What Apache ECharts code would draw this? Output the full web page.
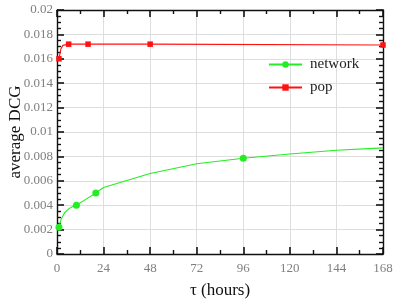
<!DOCTYPE html>
<html>
<head>
<meta charset="utf-8">
<script src="https://cdn.jsdelivr.net/npm/echarts@6/dist/echarts.min.js"></script>
<style>html,body{margin:0;padding:0;background:#fff}#c{width:409px;height:300px}</style>
</head>
<body>
<div id="c"></div>
<script>
// ---- data ----
var xTicks = [0, 24, 48, 72, 96, 120, 144, 168];
var yTicks = [0, 0.002, 0.004, 0.006, 0.008, 0.01, 0.012, 0.014, 0.016, 0.018, 0.02];

var networkTau = [1, 2, 4, 6, 8, 10, 15, 20, 24, 48, 72, 96, 120, 144, 168];
var networkVal = [0.0022, 0.0028, 0.0034, 0.0037, 0.0039, 0.0040, 0.0045, 0.0050, 0.00545, 0.0066, 0.0074, 0.00785, 0.0082, 0.0085, 0.0087];
var networkMarkerTau = [1, 10, 20, 96];

var popTau = [1, 2, 3, 6, 16, 48, 168];
var popVal = [0.0160, 0.0168, 0.0171, 0.0172, 0.0172, 0.0172, 0.01713];
var popMarkerTau = [1, 6, 16, 48, 168];

// ---- build ----
function build(tau, val, marks) {
  return tau.map(function (t, i) {
    var item = { value: [t, val[i]] };
    if (marks.indexOf(t) < 0) item.symbol = 'none';
    return item;
  });
}
var FONT = '"Liberation Serif", "DejaVu Serif", serif';
var AXC = '#111';
var chart = echarts.init(document.getElementById('c'), null, { renderer: 'canvas' });
var xMin = xTicks[0], xMax = xTicks[xTicks.length - 1], xInt = xTicks[1] - xTicks[0];
var yMin = yTicks[0], yMax = yTicks[yTicks.length - 1], yInt = yTicks[1] - yTicks[0];

function xAx(pos, show) {
  return {
    type: 'value', position: pos, min: xMin, max: xMax, interval: xInt,
    name: show ? 'τ (hours)' : '', nameLocation: 'middle', nameGap: 28, nameMoveOverlap: false,
    nameTextStyle: { fontFamily: FONT, fontSize: 17, color: '#111' },
    axisLine: { show: true, onZero: false, lineStyle: { color: AXC, width: 1.4 } },
    axisTick: { show: true, inside: true, length: 7, lineStyle: { color: AXC, width: 1.6 } },
    minorTick: { show: true, splitNumber: 2, length: 4, lineStyle: { color: AXC, width: 1.4 } },
    axisLabel: { show: show, margin: 8, fontFamily: FONT, fontSize: 13, color: '#808080' },
    splitLine: { show: show, lineStyle: { color: '#dedede', width: 1 } }
  };
}
function yAx(pos, show) {
  return {
    type: 'value', position: pos, min: yMin, max: yMax, interval: yInt,
    name: show ? 'average DCG' : '', nameLocation: 'middle', nameGap: 33, nameMoveOverlap: false,
    nameTextStyle: { fontFamily: FONT, fontSize: 17, color: '#111' },
    axisLine: { show: true, onZero: false, lineStyle: { color: AXC, width: 1.4 } },
    axisTick: { show: true, inside: true, length: 7, lineStyle: { color: AXC, width: 1.6 } },
    minorTick: { show: true, splitNumber: 4, length: 4, lineStyle: { color: AXC, width: 1.4 } },
    axisLabel: { show: show, margin: 4, fontFamily: FONT, fontSize: 13, color: '#808080',
      formatter: function (v) { return String(+v.toFixed(4)); } },
    splitLine: { show: show, lineStyle: { color: '#dedede', width: 1 } }
  };
}

chart.setOption({
  animation: false,
  grid: { left: 57, right: 26, top: 10, bottom: 46, containLabel: false, outerBoundsMode: 'none' },
  xAxis: [xAx('bottom', true), xAx('top', false)],
  yAxis: [yAx('left', true), yAx('right', false)],
  legend: {
    orient: 'vertical', left: 268, top: 57, padding: 0, itemWidth: 33, itemHeight: 8, itemGap: 8,
    textStyle: { fontFamily: FONT, fontSize: 15, color: '#222', padding: [0, 0, 0, 3] },
    data: ['network', 'pop']
  },
  series: [
    { name: 'network', type: 'line', xAxisIndex: 0, yAxisIndex: 0, smooth: false,
      symbol: 'circle', symbolSize: 7, clip: false,
      lineStyle: { color: '#22ee22', width: 1.1 }, itemStyle: { color: '#22ee22' },
      data: build(networkTau, networkVal, networkMarkerTau) },
    { name: 'pop', type: 'line', xAxisIndex: 0, yAxisIndex: 0, smooth: false,
      symbol: 'rect', symbolSize: 5.5, clip: false,
      lineStyle: { color: '#ff1111', width: 1.1 }, itemStyle: { color: '#ff1111' },
      data: build(popTau, popVal, popMarkerTau) }
  ]
});
</script>
</body>
</html>
